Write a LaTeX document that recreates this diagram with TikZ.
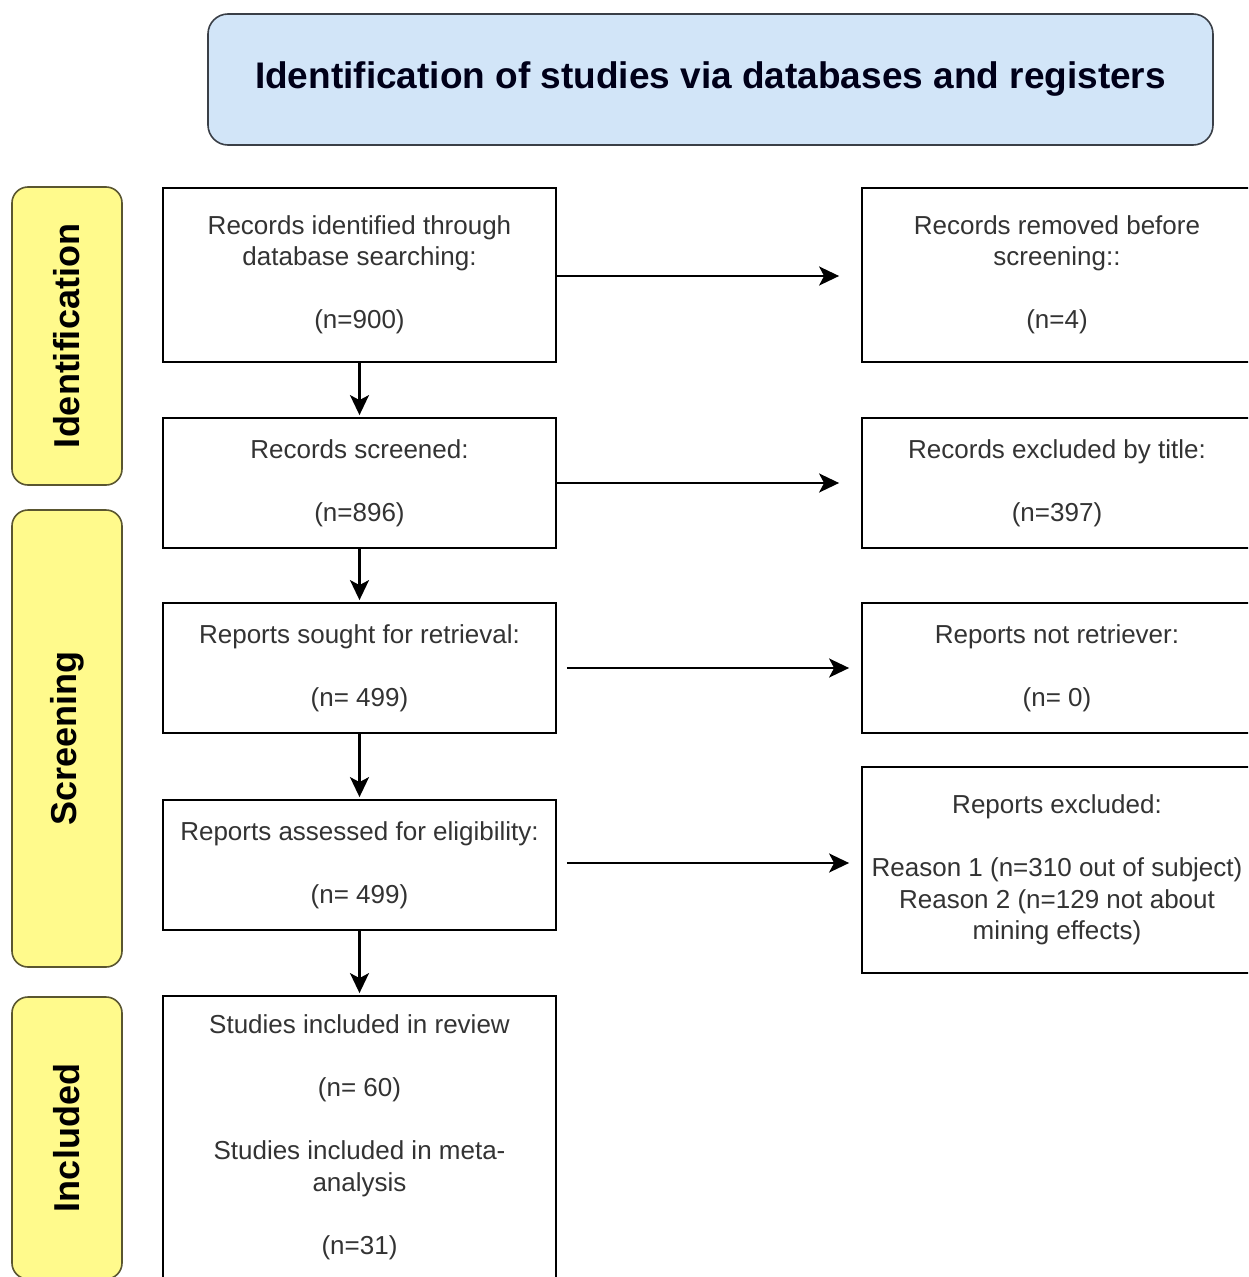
\documentclass[tikz,border=0pt]{standalone}
\usepackage{fontspec}
\setmainfont{Liberation Sans}
\usetikzlibrary{arrows.meta}
\definecolor{titlefill}{HTML}{D2E5F8}
\definecolor{titleline}{HTML}{3A3F47}
\definecolor{sidefill}{HTML}{FFFA8C}
\definecolor{sideline}{HTML}{5A5630}
\definecolor{bodytext}{HTML}{333333}
\tikzset{
  box/.style={draw=black, line width=1.8pt, fill=white, text=bodytext, align=center,
    inner sep=0pt, font=\fontsize{26}{31.5}\selectfont},
  leftbox/.style={box, minimum width=393pt},
  rightbox/.style={box, minimum width=390pt},
  side/.style={draw=sideline, line width=1.6pt, fill=sidefill, rounded corners=16pt,
    rotate=90, minimum height=110pt, inner sep=0pt, text=black,
    font=\fontsize{36}{40}\selectfont\bfseries},
  arr/.style={draw=black, line width=2.4pt, -{Stealth[length=20pt,width=19pt,inset=5pt]}},
}
\begin{document}
\begin{tikzpicture}[x=1pt,y=-1pt]
\useasboundingbox (0,0) rectangle (1248,1277);
\fill[white] (0,0) rectangle (1248,1277);
\clip (0,0) rectangle (1248,1277);

% title
\node[draw=titleline, line width=1.6pt, fill=titlefill, rounded corners=20pt,
  minimum width=1005pt, minimum height=131pt, inner sep=0pt, text=black!90!blue,
  font=\fontsize{37}{40}\selectfont\bfseries] (title) at (710.5,79.5)
  {Identification of studies via databases and registers};

% side labels
\node[side, minimum width=298pt] (sid) at (67,336) {Identification};
\node[side, minimum width=457pt] (sscr) at (67,738.5) {Screening};
\node[side, minimum width=282pt] (sinc) at (67,1138) {Included};

% left column
\node[leftbox, minimum height=174pt] (b1) at (359.5,275)
  {Records identified through\\database searching:\\\strut\\(n=900)};
\node[leftbox, minimum height=130pt] (b2) at (359.5,483)
  {Records screened:\\\strut\\(n=896)};
\node[leftbox, minimum height=130pt] (b3) at (359.5,668)
  {Reports sought for retrieval:\\\strut\\(n= 499)};
\node[leftbox, minimum height=130pt] (b4) at (359.5,865)
  {Reports assessed for eligibility:\\\strut\\(n= 499)};
\node[leftbox, minimum height=283pt] (b5) at (359.5,1137.5)
  {Studies included in review\\\strut\\(n= 60)\\\strut\\Studies included in meta-\\analysis\\\strut\\(n=31)};

% right column
\node[rightbox, minimum height=174pt] (r1) at (1057,275)
  {Records removed before\\screening::\\\strut\\(n=4)};
\node[rightbox, minimum height=130pt] (r2) at (1057,483)
  {Records excluded by title:\\\strut\\(n=397)};
\node[rightbox, minimum height=130pt] (r3) at (1057,668)
  {Reports not retriever:\\\strut\\(n= 0)};
\node[rightbox, minimum height=206pt] (r4) at (1057,870)
  {Reports excluded:\\\strut\\Reason 1 (n=310 out of subject)\\Reason 2 (n=129 not about\\mining effects)};

% vertical arrows
\draw[arr, shorten >=2pt] (b1.south) -- (b2.north);
\draw[arr, shorten >=2pt] (b2.south) -- (b3.north);
\draw[arr, shorten >=2pt] (b3.south) -- (b4.north);
\draw[arr, shorten >=2pt] (b4.south) -- (b5.north);

% horizontal arrows
\draw[arr, shorten >=22pt] ([yshift=-1pt]b1.east) -- ([yshift=-1pt]b1.east -| r1.west);
\draw[arr, shorten >=22pt] (b2.east) -- (b2.east -| r2.west);
\draw[arr, shorten <=10pt, shorten >=12pt] (b3.east) -- (b3.east -| r3.west);
\draw[arr, shorten <=10pt, shorten >=12pt] ([yshift=2pt]b4.east) -- ([yshift=2pt]b4.east -| r4.west);
\end{tikzpicture}
\end{document}
